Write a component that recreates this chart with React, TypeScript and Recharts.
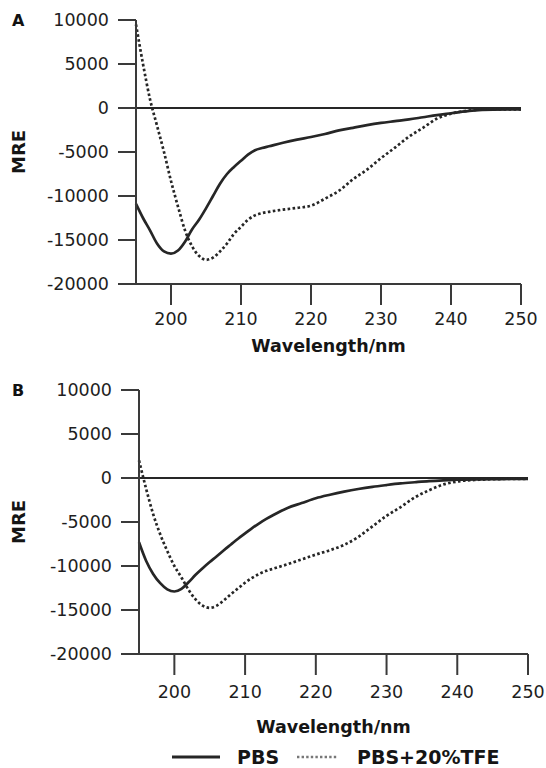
import { LineChart, Line, XAxis, YAxis, ReferenceLine, Label } from "recharts";

// wavelength (nm), shared by both panels
const wavelengths = [
  195, 196, 197, 198, 199, 200, 201, 202, 203, 204, 205, 206, 207, 208, 209,
  210, 211, 212, 213, 214, 216, 218, 220, 222, 224, 226, 228, 230, 232, 234,
  236, 238, 240, 243, 246, 250,
];

// panel A
const pbsA = [
  -10900, -12500, -13900, -15400, -16300, -16550, -16200, -15200, -13800,
  -12700, -11400, -10000, -8600, -7500, -6700, -6000, -5300, -4800, -4550,
  -4350, -3950, -3600, -3300, -2950, -2550, -2250, -1950, -1700, -1500, -1300,
  -1050, -800, -600, -300, -180, -150,
];
const tfeA = [
  9500, 5000, 1000, -2000, -5000, -8300, -11200, -13900, -15700, -16800,
  -17250, -17000, -16300, -15400, -14300, -13500, -12700, -12200, -11950,
  -11800, -11550, -11350, -11100, -10300, -9400, -8100, -7000, -5700, -4500,
  -3250, -2250, -1200, -650, -250, -150, -150,
];

// panel B
const pbsB = [
  -7300, -9400, -10900, -11950, -12650, -12900, -12600, -11850, -11000,
  -10250, -9550, -8900, -8200, -7550, -6900, -6300, -5700, -5150, -4650,
  -4200, -3400, -2850, -2300, -1900, -1550, -1250, -1000, -800, -620, -480,
  -350, -260, -200, -150, -120, -100,
];
const tfeB = [
  2000, -1200, -4100, -6400, -8300, -10000, -11300, -12700, -13800, -14500,
  -14750, -14500, -13900, -13200, -12550, -11900, -11350, -10900, -10550,
  -10300, -9800, -9250, -8700, -8200, -7600, -6700, -5500, -4300, -3300,
  -2200, -1400, -750, -400, -200, -120, -100,
];

const xTicks = [200, 210, 220, 230, 240, 250];
const yTicks = [10000, 5000, 0, -5000, -10000, -15000, -20000];

const INK = "#262626";
const AXIS = "#3a3a3a";
const FONT = "DejaVu Sans";

type PanelProps = {
  pbs: number[];
  tfe: number[];
  top: number;
  axisWidth: number;
  right: number;
  xTickMargin: number;
  xLabelOffset: number;
};

const Panel = ({ pbs, tfe, top, axisWidth, right, xTickMargin, xLabelOffset }: PanelProps) => {
  const data = wavelengths.map((wl, i) => ({ wl, pbs: pbs[i], tfe: tfe[i] }));
  return (
    <div style={{ position: "absolute", left: 0, top }}>
      <LineChart
        width={546}
        height={370}
        data={data}
        margin={{ top: 20, right, left: 0, bottom: 0 }}
      >
        <XAxis
          dataKey="wl"
          type="number"
          domain={[195, 250]}
          ticks={xTicks}
          interval={0}
          height={86}
          tickSize={21}
          tickMargin={xTickMargin}
          stroke={AXIS}
          strokeWidth={2}
          tick={{ fill: "#1e1e1e", fontSize: 17.5, fontFamily: FONT }}
        >
          <Label
            value="Wavelength/nm"
            position="insideBottom"
            offset={xLabelOffset}
            style={{ fill: "#151515", fontSize: 17.5, fontWeight: "bold", fontFamily: FONT }}
          />
        </XAxis>
        <YAxis
          type="number"
          domain={[-20000, 10000]}
          ticks={yTicks}
          interval={0}
          width={axisWidth}
          tickSize={18}
          tickMargin={9}
          stroke={AXIS}
          strokeWidth={2}
          tick={{ fill: "#1e1e1e", fontSize: 17.5, fontFamily: FONT }}
        >
          <Label
            value="MRE"
            angle={-90}
            position="insideLeft"
            offset={19}
            style={{
              fill: "#151515",
              fontSize: 18,
              fontWeight: "bold",
              fontFamily: FONT,
              textAnchor: "middle",
            }}
          />
        </YAxis>
        <ReferenceLine y={0} stroke={INK} strokeWidth={2.2} />
        <Line
          type="monotone"
          dataKey="pbs"
          stroke={INK}
          strokeWidth={2.7}
          dot={false}
          isAnimationActive={false}
        />
        <Line
          type="monotone"
          dataKey="tfe"
          stroke={INK}
          strokeWidth={2.7}
          strokeDasharray="2.6 2.4"
          dot={false}
          isAnimationActive={false}
        />
      </LineChart>
    </div>
  );
};

const panelLetter = (text: string, top: number) => (
  <div
    style={{
      position: "absolute",
      left: 12,
      top,
      fontSize: 16,
      lineHeight: "16px",
      fontWeight: "bold",
      color: "#111",
    }}
  >
    {text}
  </div>
);

export default function App() {
  return (
    <div
      style={{
        position: "absolute",
        left: 0,
        top: 0,
        width: 546,
        height: 768,
        background: "#fff",
        fontFamily: FONT,
        overflow: "hidden",
      }}
    >
      <Panel pbs={pbsA} tfe={tfeA} top={0} axisWidth={136} right={25} xTickMargin={8} xLabelOffset={18} />
      <Panel pbs={pbsB} tfe={tfeB} top={370} axisWidth={139} right={18} xTickMargin={11} xLabelOffset={7} />
      {panelLetter("A", 13)}
      {panelLetter("B", 383)}

      <svg
        width={546}
        height={30}
        style={{ position: "absolute", left: 0, top: 742 }}
      >
        <line x1={172} x2={220} y1={15} y2={15} stroke={INK} strokeWidth={3} />
        <text x={237} y={21.6} fontSize={19} fontWeight="bold" fill="#151515" fontFamily={FONT}>
          PBS
        </text>
        <line
          x1={297}
          x2={338}
          y1={15}
          y2={15}
          stroke="#777"
          strokeWidth={2.4}
          strokeDasharray="2.4 2.2"
        />
        <text x={357} y={21.6} fontSize={19} fontWeight="bold" fill="#151515" fontFamily={FONT}>
          PBS+20%TFE
        </text>
      </svg>
    </div>
  );
}
